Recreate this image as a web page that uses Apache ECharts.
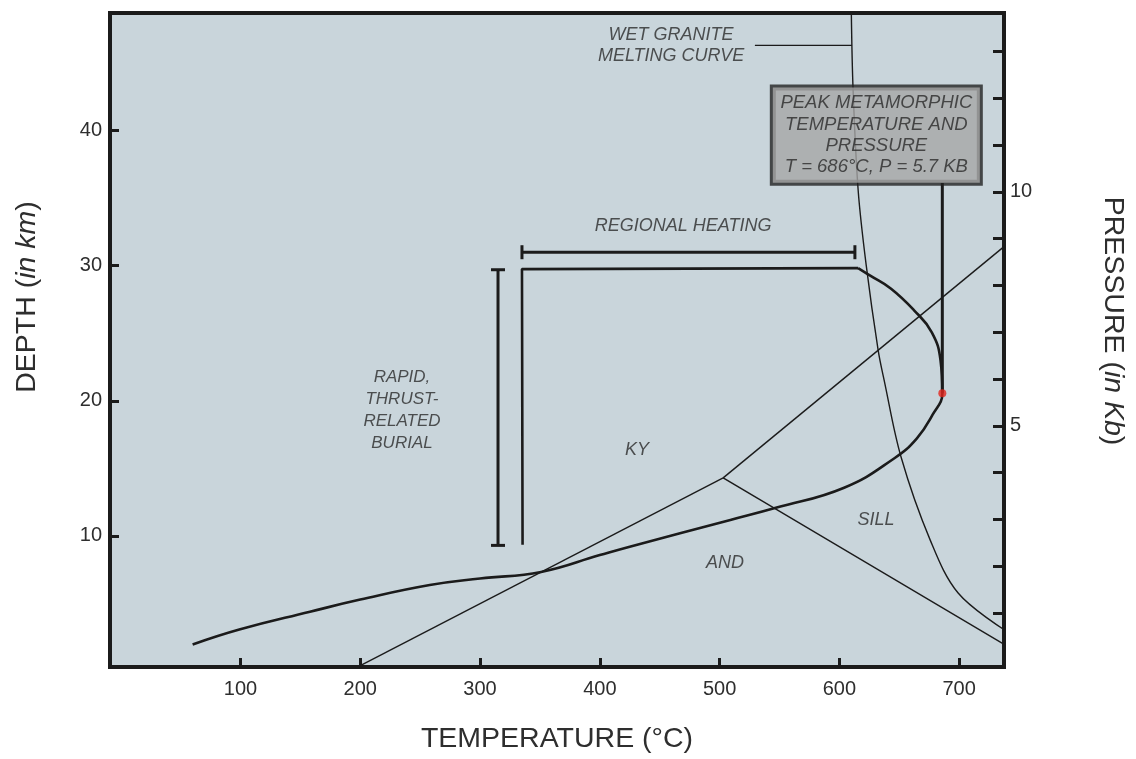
<!DOCTYPE html>
<html>
<head>
<meta charset="utf-8">
<title>P-T path</title>
<script src="https://cdn.jsdelivr.net/npm/echarts@6/dist/echarts.min.js"></script>
<style>
  html, body { margin: 0; padding: 0; background: #ffffff; }
  #chart { width: 1136px; height: 759px; }
</style>
</head>
<body>
<div id="chart"></div>
<script>
// ---- Axis ticks ----
const temperatureTicks = [100, 200, 300, 400, 500, 600, 700];
const depthTicks = [10, 20, 30, 40];
const pressureTicks = [1, 2, 3, 4, 5, 6, 7, 8, 9, 10, 11, 12, 13];
const pressureLabels = [5, 10];

// ---- Al2SiO5 reaction boundaries (T in °C, P in kb) ----
const kyaniteAndalusite = [[200, -0.12], [503, 3.89]];
const kyaniteSillimanite = [[503, 3.89], [738, 8.84]];
const andalusiteSillimanite = [[503, 3.89], [738, 0.33]];

// ---- Wet granite melting curve (T in °C, P in kb) ----
const wetGraniteMelting = [
  [610, 13.85], [611.5, 12.17], [615.7, 10.04], [622.4, 8.44], [632.4, 6.62],
  [637.4, 5.98], [651.6, 4.33], [675.9, 2.56], [699.2, 1.43], [738, 0.64]
];

// ---- Peak metamorphic conditions ----
const peakT = 686;
const peakP = 5.7;

// ---- P-T path: heating loop through the peak (T in °C, P in kb) ----
const ptLoop = [
  [60, 0.33], [99, 0.65], [158, 1.03], [200, 1.29], [258, 1.6], [300, 1.74],
  [351, 1.88], [400, 2.24], [425, 2.42], [509, 2.99], [547, 3.25], [604, 3.68],
  [646, 4.31], [664.6, 4.73], [677.9, 5.24], [peakT, peakP],
  [684.5, 6.4], [677.2, 7.0], [662.4, 7.47], [643.2, 7.93], [625.8, 8.21], [615.7, 8.37]
];
// isobaric leg and rapid burial leg of the path
const ptBurialLeg = [[615.7, 8.37], [335, 8.35], [335.5, 2.46]];

// ---- Duration brackets ----
const regionalHeating = [[335, 8.71], [613, 8.71]];   // T in °C, P in kb
const thrustBurial = [[315, 9.3], [315, 29.7]];        // T in °C, depth in km

// ---- Text ----
const peakTitle = ['PEAK METAMORPHIC', 'TEMPERATURE AND', 'PRESSURE'];
const meltingText = ['WET GRANITE', 'MELTING CURVE'];
const burialText = ['RAPID,', 'THRUST-', 'RELATED', 'BURIAL'];

const ink = '#1b1b1b';
const textColor = '#2a2a2a';
const titleColor = '#2e2e2e';
const font = '"Liberation Sans", Arial, Helvetica, sans-serif';

function plainLine(data, width, opts) {
  return Object.assign({
    type: 'line',
    data: data,
    yAxisIndex: 1,
    symbol: 'none',
    clip: true,
    silent: true,
    lineStyle: { color: ink, width: width },
    z: 3
  }, opts || {});
}

function note(text, value, size, lineHeight) {
  return {
    value: value,
    label: {
      show: true,
      position: 'inside',
      formatter: text,
      fontSize: size,
      lineHeight: lineHeight,
      fontStyle: 'italic',
      color: textColor,
      fontFamily: font,
      align: 'center',
      verticalAlign: 'middle'
    }
  };
}

const tickStyle = { color: ink, width: 3 };
const titleRich = {
  n: { fontSize: 28.5, color: titleColor, fontFamily: font },
  i: { fontSize: 28.5, color: titleColor, fontFamily: font, fontStyle: 'italic' }
};

const chart = echarts.init(document.getElementById('chart'), null, { renderer: 'canvas' });

const option = {
  animation: false,
  backgroundColor: '#ffffff',
  grid: {
    left: 110, top: 13, width: 894, height: 654,
    show: true,
    backgroundColor: '#c9d5db',
    borderColor: ink,
    borderWidth: 4,
    containLabel: false,
    outerBoundsMode: 'none'
  },
  xAxis: {
    type: 'value',
    min: -9,
    max: 737.5,
    axisLine: { show: false, onZero: false },
    splitLine: { show: false },
    axisTick: {
      show: true, inside: true, length: 9,
      customValues: temperatureTicks,
      lineStyle: tickStyle
    },
    axisLabel: {
      customValues: temperatureTicks,
      margin: 12, fontSize: 20, color: titleColor, fontFamily: font
    },
    name: 'TEMPERATURE (°C)',
    nameLocation: 'middle',
    nameGap: 58,
    nameTextStyle: { fontSize: 28.5, color: titleColor, fontFamily: font }
  },
  yAxis: [
    {
      type: 'value',
      position: 'left',
      min: 0.3,
      max: 48.7,
      axisLine: { show: false, onZero: false },
      splitLine: { show: false },
      axisTick: {
        show: true, inside: true, length: 9,
        customValues: depthTicks,
        lineStyle: tickStyle
      },
      axisLabel: {
        customValues: depthTicks,
        margin: 8, fontSize: 20, color: titleColor, fontFamily: font
      },
      name: '{n|DEPTH (}{i|in km}{n|)}',
      nameLocation: 'middle',
      nameRotate: 90,
      nameGap: 68,
      nameTextStyle: { rich: titleRich, padding: [0, 0, 0, 86] }
    },
    {
      type: 'value',
      position: 'right',
      min: -0.15,
      max: 13.82,
      axisLine: { show: false, onZero: false },
      splitLine: { show: false },
      axisTick: {
        show: true, inside: true, length: 11,
        customValues: pressureTicks,
        lineStyle: tickStyle
      },
      axisLabel: {
        customValues: pressureLabels,
        margin: 6, fontSize: 20, color: titleColor, fontFamily: font
      },
      name: '{n|PRESSURE (}{i|in Kb}{n|)}',
      nameLocation: 'middle',
      nameRotate: -90,
      nameGap: 94,
      nameTextStyle: { rich: titleRich, padding: [0, 38, 0, 0] }
    }
  ],
  series: [
    // aluminosilicate phase boundaries
    plainLine(kyaniteAndalusite, 1.4),
    plainLine(kyaniteSillimanite, 1.4),
    plainLine(andalusiteSillimanite, 1.4),
    // wet granite melting curve and its leader
    plainLine(wetGraniteMelting, 1.4, { smooth: 0.35 }),
    plainLine([[529.5, 13.13], [610.6, 13.13]], 1.2),
    // P-T path
    plainLine(ptLoop, 2.6, { smooth: 0.45, z: 4 }),
    plainLine(ptBurialLeg, 2.6, { z: 4 }),
    // leader from the peak box down to the peak point
    plainLine([[peakT, peakP], [peakT, 10.19]], 3, { z: 4 }),
    // brackets
    plainLine(regionalHeating, 3, {
      symbol: 'rect', symbolSize: [3, 14], showSymbol: true,
      itemStyle: { color: ink }
    }),
    plainLine(thrustBurial, 3, {
      yAxisIndex: 0,
      symbol: 'rect', symbolSize: [14, 3], showSymbol: true,
      itemStyle: { color: ink }
    }),
    // text annotations
    {
      type: 'scatter',
      yAxisIndex: 1,
      symbolSize: 0,
      silent: true,
      z: 6,
      data: [
        note(meltingText.join('\n'), [459.5, 13.12], 18, 21),
        note('REGIONAL HEATING', [469.5, 9.27], 18, 21),
        note(burialText.join('\n'), [234.8, 5.34], 17, 22),
        note('KY', [431, 4.49], 18, 21),
        note('AND', [504.6, 2.08], 18, 21),
        note('SILL', [630.7, 2.99], 18, 21)
      ]
    },
    // peak point with its labelled box
    {
      type: 'scatter',
      yAxisIndex: 1,
      symbol: 'circle',
      symbolSize: 8,
      itemStyle: { color: '#e3261d' },
      silent: true,
      z: 8,
      data: [[peakT, peakP]],
      label: {
        show: true,
        position: 'inside',
        offset: [-66, -258],
        formatter: peakTitle.join('\n') + '\nT = ' + peakT + '°C, P = ' + peakP + ' KB',
        fontSize: 18.5,
        lineHeight: 21.3,
        fontStyle: 'italic',
        fontFamily: font,
        color: textColor,
        align: 'center',
        verticalAlign: 'middle',
        width: 199,
        padding: [5, 4],
        backgroundColor: '#a6a6a6',
        borderColor: '#222222',
        borderWidth: 3
      }
    }
  ]
};

chart.setOption(option);
</script>
</body>
</html>
